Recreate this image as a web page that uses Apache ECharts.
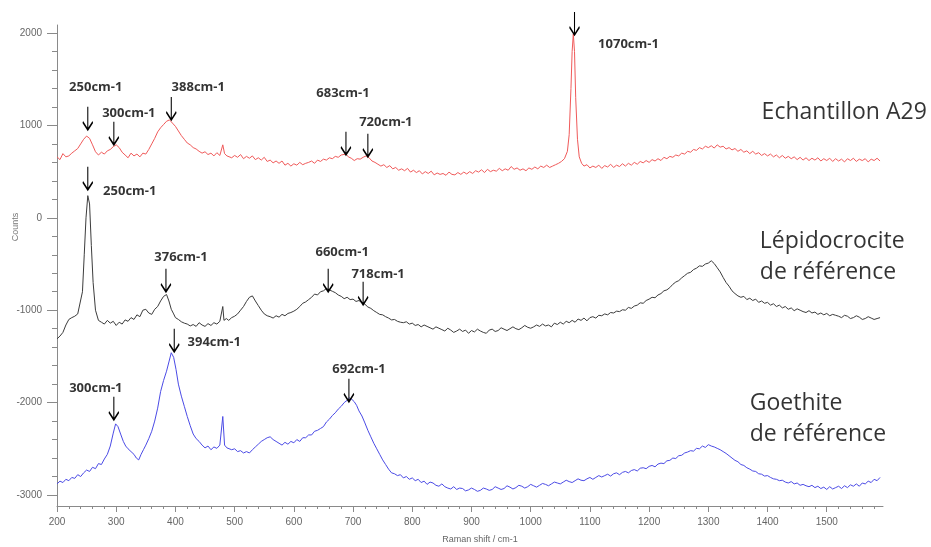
<!DOCTYPE html>
<html>
<head>
<meta charset="utf-8">
<script src="https://cdn.jsdelivr.net/npm/echarts@6/dist/echarts.min.js"></script>
<style>html,body{margin:0;padding:0;background:#fff;}#c{width:931px;height:547px;}</style>
</head>
<body>
<div id="c"></div>
<script>
// ---- data ----
const xTicks = [200,300,400,500,600,700,800,900,1000,1100,1200,1300,1400,1500];
const yTicks = [-3000,-2000,-1000,0,1000,2000];

const echantillonA29 = [[200,660],[205,630],[210,695],[215,660],[220,670],[225,700],[230,725],[235,750],[240,800],[245,850],[250,885],[255,860],[260,790],[265,715],[270,680],[275,710],[280,690],[285,725],[290,740],[295,770],[300,790],[305,760],[310,710],[315,680],[320,650],[325,700],[330,670],[335,690],[340,660],[345,700],[350,690],[355,740],[360,800],[365,860],[370,930],[375,975],[380,1010],[385,1045],[390,1060],[395,1025],[400,990],[405,940],[410,890],[415,850],[420,810],[425,790],[430,760],[435,745],[440,720],[445,700],[450,715],[455,685],[460,700],[465,670],[470,705],[475,675],[477,690],[480,790],[483,695],[487,670],[490,680],[495,650],[500,675],[505,655],[510,685],[515,640],[520,665],[525,645],[530,670],[535,630],[540,650],[545,625],[550,655],[555,610],[560,625],[565,595],[570,615],[575,590],[580,615],[585,570],[590,590],[595,560],[600,585],[605,570],[610,600],[615,575],[620,590],[625,600],[630,615],[635,590],[640,625],[645,610],[650,635],[655,625],[660,650],[665,640],[670,665],[675,655],[680,680],[688,690],[692,660],[697,645],[702,620],[707,640],[712,635],[717,655],[722,670],[727,650],[732,615],[737,600],[742,580],[747,560],[752,575],[757,545],[762,565],[767,530],[772,545],[777,515],[782,530],[787,510],[792,535],[797,495],[802,515],[807,490],[812,510],[817,475],[822,500],[827,480],[832,505],[837,465],[842,485],[847,470],[852,480],[857,460],[862,495],[867,470],[872,465],[877,490],[882,470],[887,495],[892,475],[897,500],[902,480],[907,510],[912,495],[917,520],[922,490],[927,525],[932,500],[937,515],[942,505],[947,535],[952,510],[957,530],[962,515],[967,555],[972,525],[977,540],[982,515],[987,530],[992,510],[997,540],[1002,525],[1007,550],[1012,530],[1017,560],[1022,545],[1027,570],[1032,545],[1037,560],[1042,575],[1047,590],[1052,610],[1057,640],[1062,720],[1065,900],[1068,1400],[1070,1800],[1072,1990],[1074,1800],[1076,1300],[1079,850],[1082,660],[1086,590],[1090,560],[1095,575],[1100,540],[1105,560],[1110,545],[1115,570],[1120,535],[1125,565],[1130,550],[1135,580],[1140,545],[1145,570],[1150,555],[1155,585],[1160,560],[1165,590],[1170,570],[1175,600],[1180,580],[1185,610],[1190,595],[1195,620],[1200,600],[1205,630],[1210,615],[1215,640],[1220,620],[1225,655],[1230,640],[1235,665],[1240,655],[1245,680],[1250,670],[1255,700],[1260,690],[1265,720],[1270,710],[1275,740],[1280,730],[1285,760],[1290,745],[1295,775],[1300,760],[1305,780],[1310,755],[1315,790],[1320,765],[1325,775],[1330,745],[1335,760],[1340,735],[1345,750],[1350,720],[1355,740],[1360,710],[1365,725],[1370,695],[1375,720],[1380,690],[1385,705],[1390,675],[1395,695],[1400,670],[1405,690],[1410,660],[1415,680],[1420,650],[1425,675],[1430,645],[1435,665],[1440,640],[1445,660],[1450,630],[1455,655],[1460,625],[1465,650],[1470,620],[1475,645],[1480,625],[1485,650],[1490,615],[1495,640],[1500,620],[1505,645],[1510,610],[1515,640],[1520,615],[1525,635],[1530,605],[1535,640],[1540,620],[1545,645],[1550,610],[1555,635],[1560,620],[1565,640],[1570,605],[1575,635],[1580,620],[1585,645],[1590,615]];

const lepidocrocite = [[200,-1310],[205,-1280],[210,-1240],[215,-1160],[220,-1100],[225,-1080],[230,-1065],[235,-1040],[238,-1030],[243,-800],[246,-400],[249,0],[252,240],[255,150],[258,-300],[261,-700],[265,-1000],[270,-1110],[275,-1130],[280,-1150],[285,-1110],[290,-1140],[295,-1120],[300,-1165],[305,-1130],[310,-1150],[315,-1105],[320,-1120],[325,-1080],[330,-1100],[335,-1050],[340,-1070],[345,-1000],[350,-990],[355,-1030],[360,-1045],[365,-990],[370,-960],[375,-900],[380,-850],[385,-830],[389,-900],[393,-990],[397,-1040],[400,-1080],[405,-1100],[410,-1125],[415,-1140],[420,-1150],[425,-1170],[430,-1155],[435,-1175],[440,-1135],[445,-1160],[450,-1175],[455,-1145],[460,-1165],[465,-1135],[470,-1150],[475,-1120],[478,-1130],[480,-960],[482,-1110],[486,-1090],[490,-1110],[495,-1080],[500,-1065],[505,-1040],[510,-1000],[515,-960],[520,-905],[525,-860],[530,-845],[535,-900],[540,-950],[545,-1000],[550,-1040],[555,-1060],[560,-1070],[565,-1085],[570,-1060],[575,-1075],[580,-1045],[585,-1060],[590,-1035],[595,-1025],[600,-1010],[605,-990],[610,-960],[615,-925],[620,-910],[625,-885],[630,-860],[635,-825],[640,-835],[645,-800],[650,-790],[655,-765],[660,-780],[665,-795],[670,-810],[675,-835],[680,-850],[685,-875],[690,-860],[695,-885],[700,-880],[705,-905],[710,-895],[715,-920],[720,-935],[725,-965],[730,-980],[735,-1005],[740,-1025],[745,-1045],[750,-1050],[755,-1070],[760,-1085],[765,-1105],[770,-1100],[775,-1120],[780,-1130],[785,-1135],[790,-1125],[795,-1150],[800,-1140],[805,-1165],[810,-1155],[815,-1180],[820,-1160],[825,-1175],[830,-1190],[835,-1205],[840,-1180],[845,-1195],[850,-1210],[855,-1225],[860,-1195],[865,-1215],[870,-1240],[875,-1225],[880,-1205],[885,-1230],[890,-1215],[895,-1250],[900,-1220],[905,-1235],[910,-1205],[915,-1225],[920,-1240],[925,-1250],[930,-1215],[935,-1205],[940,-1230],[945,-1220],[950,-1190],[955,-1205],[960,-1220],[965,-1200],[970,-1180],[975,-1200],[980,-1210],[985,-1190],[990,-1165],[995,-1185],[1000,-1195],[1005,-1180],[1010,-1160],[1015,-1175],[1020,-1150],[1025,-1170],[1030,-1160],[1035,-1180],[1040,-1140],[1045,-1155],[1050,-1130],[1055,-1150],[1060,-1120],[1065,-1135],[1070,-1110],[1075,-1130],[1080,-1095],[1085,-1110],[1090,-1085],[1095,-1115],[1100,-1080],[1105,-1070],[1110,-1085],[1115,-1055],[1120,-1060],[1125,-1040],[1130,-1050],[1135,-1025],[1140,-1030],[1145,-1010],[1150,-1015],[1155,-995],[1160,-1000],[1165,-970],[1170,-980],[1175,-955],[1180,-945],[1185,-920],[1190,-925],[1195,-895],[1200,-880],[1205,-860],[1210,-865],[1215,-835],[1220,-820],[1225,-790],[1230,-780],[1235,-755],[1240,-720],[1245,-695],[1250,-680],[1255,-650],[1260,-625],[1265,-600],[1270,-590],[1275,-560],[1280,-545],[1285,-520],[1290,-525],[1295,-500],[1300,-490],[1305,-465],[1310,-495],[1315,-540],[1320,-585],[1325,-645],[1330,-700],[1335,-740],[1340,-790],[1345,-820],[1350,-845],[1355,-860],[1360,-850],[1365,-885],[1370,-870],[1375,-895],[1380,-880],[1385,-915],[1390,-900],[1395,-925],[1400,-915],[1405,-945],[1410,-930],[1415,-960],[1420,-945],[1425,-975],[1430,-960],[1435,-990],[1440,-975],[1445,-1005],[1450,-985],[1455,-1000],[1460,-1015],[1465,-1025],[1470,-1005],[1475,-1030],[1480,-1020],[1485,-1045],[1490,-1030],[1495,-1050],[1500,-1035],[1505,-1060],[1510,-1045],[1515,-1055],[1520,-1065],[1525,-1080],[1530,-1055],[1535,-1065],[1540,-1090],[1545,-1080],[1550,-1060],[1555,-1075],[1560,-1100],[1565,-1090],[1570,-1070],[1575,-1085],[1580,-1100],[1585,-1090],[1590,-1080]];

const goethite = [[200,-2880],[205,-2850],[210,-2865],[215,-2830],[220,-2845],[225,-2810],[230,-2820],[235,-2780],[240,-2800],[245,-2760],[250,-2730],[255,-2745],[260,-2700],[265,-2715],[270,-2660],[275,-2670],[280,-2610],[285,-2560],[290,-2470],[295,-2330],[299,-2230],[303,-2260],[308,-2350],[312,-2420],[316,-2470],[320,-2500],[325,-2530],[330,-2560],[334,-2600],[338,-2620],[342,-2560],[346,-2510],[350,-2460],[355,-2390],[360,-2310],[365,-2200],[370,-2060],[375,-1880],[380,-1760],[385,-1660],[389,-1560],[393,-1460],[397,-1510],[401,-1640],[405,-1800],[410,-1930],[415,-2040],[420,-2150],[425,-2250],[430,-2340],[435,-2390],[440,-2420],[445,-2460],[450,-2490],[455,-2470],[460,-2510],[465,-2480],[470,-2495],[475,-2460],[478,-2480],[480,-2150],[483,-2460],[487,-2490],[490,-2470],[495,-2510],[500,-2500],[505,-2530],[510,-2520],[515,-2545],[520,-2530],[525,-2545],[530,-2510],[535,-2480],[540,-2450],[545,-2420],[550,-2400],[555,-2380],[560,-2370],[565,-2400],[570,-2420],[575,-2440],[580,-2460],[585,-2430],[590,-2450],[595,-2420],[600,-2435],[605,-2400],[610,-2420],[615,-2380],[620,-2380],[625,-2350],[630,-2350],[635,-2310],[640,-2300],[645,-2280],[650,-2260],[655,-2210],[660,-2180],[665,-2140],[670,-2110],[675,-2070],[680,-2040],[685,-2000],[690,-1975],[694,-1950],[698,-1965],[702,-1990],[706,-2030],[710,-2090],[715,-2145],[720,-2220],[725,-2300],[730,-2370],[735,-2440],[740,-2500],[745,-2560],[750,-2620],[755,-2670],[760,-2720],[765,-2760],[770,-2770],[775,-2790],[780,-2780],[785,-2815],[790,-2800],[795,-2830],[800,-2815],[805,-2845],[810,-2830],[815,-2865],[820,-2850],[825,-2885],[830,-2860],[835,-2870],[840,-2895],[845,-2905],[850,-2880],[855,-2910],[860,-2925],[865,-2935],[870,-2910],[875,-2940],[880,-2925],[885,-2930],[890,-2955],[895,-2945],[900,-2925],[905,-2940],[910,-2960],[915,-2950],[920,-2925],[925,-2935],[930,-2950],[935,-2940],[940,-2910],[945,-2925],[950,-2940],[955,-2930],[960,-2900],[965,-2915],[970,-2935],[975,-2920],[980,-2895],[985,-2905],[990,-2925],[995,-2910],[1000,-2885],[1005,-2900],[1010,-2915],[1015,-2895],[1020,-2875],[1025,-2885],[1030,-2900],[1035,-2880],[1040,-2860],[1045,-2870],[1050,-2880],[1055,-2860],[1060,-2840],[1065,-2855],[1070,-2865],[1075,-2845],[1080,-2825],[1085,-2840],[1090,-2845],[1095,-2825],[1100,-2810],[1105,-2830],[1110,-2810],[1115,-2790],[1120,-2805],[1125,-2790],[1130,-2775],[1135,-2795],[1140,-2770],[1145,-2760],[1150,-2780],[1155,-2755],[1160,-2745],[1165,-2760],[1170,-2735],[1175,-2725],[1180,-2740],[1185,-2710],[1190,-2705],[1195,-2715],[1200,-2690],[1205,-2680],[1210,-2695],[1215,-2665],[1220,-2655],[1225,-2660],[1230,-2630],[1235,-2625],[1240,-2600],[1245,-2605],[1250,-2575],[1255,-2570],[1260,-2545],[1265,-2535],[1270,-2520],[1275,-2525],[1280,-2495],[1285,-2500],[1290,-2470],[1295,-2485],[1300,-2455],[1305,-2470],[1310,-2480],[1315,-2495],[1320,-2510],[1325,-2530],[1330,-2550],[1335,-2575],[1340,-2600],[1345,-2625],[1350,-2640],[1355,-2670],[1360,-2680],[1365,-2705],[1370,-2720],[1375,-2740],[1380,-2745],[1385,-2770],[1390,-2775],[1395,-2795],[1400,-2790],[1405,-2810],[1410,-2825],[1415,-2830],[1420,-2845],[1425,-2840],[1430,-2860],[1435,-2870],[1440,-2855],[1445,-2880],[1450,-2870],[1455,-2895],[1460,-2885],[1465,-2900],[1470,-2910],[1475,-2895],[1480,-2920],[1485,-2905],[1490,-2930],[1495,-2915],[1500,-2940],[1505,-2910],[1510,-2935],[1515,-2920],[1520,-2905],[1525,-2930],[1530,-2900],[1535,-2920],[1540,-2890],[1545,-2905],[1550,-2880],[1555,-2905],[1560,-2870],[1565,-2880],[1570,-2850],[1575,-2865],[1580,-2830],[1585,-2845],[1590,-2810]];

const peakX    = [252, 296, 393, 688, 725, 1074, 252, 384, 658, 717, 296, 398, 693];
const peakY    = [952, 790, 1060, 682, 660, 1980, 303, -800, -800, -940, -2186, -1450, -1990];
const peakText = ['250cm-1','300cm-1','388cm-1','683cm-1','720cm-1','1070cm-1','250cm-1','376cm-1','660cm-1','718cm-1','300cm-1','394cm-1','692cm-1'];

const sampleNames = ['Echantillon A29', 'Lépidocrocite\nde référence', 'Goethite\nde référence'];

// ---- layout (not data) ----
const peakLabelOffset = [[8,-43],[15,-32],[27,-33],[-3,-62],[18,-35],[54,9],[42,1],[15,-34],[14,-39],[15,-30],[-18,-32],[40,-9],[10,-32]];
const sampleLabelAt = [[1390,1136],[1387,-422],[1370,-2175]];

const X_MIN = 200, X_MAX = 1595, Y_MIN = -3119, Y_MAX = 2087;
const minorX = [], minorY = [];
for (let v = 220; v < X_MAX; v += 20) if (v % 100 !== 0) minorX.push(v);
for (let v = -3000; v <= 2000; v += 200) if (v % 1000 !== 0) minorY.push(v);

const axisGray = '#8a8a8a';
const labelGray = '#666';
const plain = v => String(v);

const chart = echarts.init(document.getElementById('c'), null, {renderer: 'canvas'});
chart.setOption({
  animation: false,
  backgroundColor: '#fff',
  grid: {left: 57, right: 48, top: 25, bottom: 41},
  xAxis: [
    {type: 'value', min: X_MIN, max: X_MAX,
     axisLine: {onZero: false, lineStyle: {color: axisGray, width: 1}},
     axisTick: {customValues: xTicks, length: 6, lineStyle: {color: axisGray}},
     axisLabel: {customValues: xTicks, formatter: plain, color: labelGray, fontSize: 10, fontFamily: 'Liberation Sans', margin: 11},
     splitLine: {show: false}},
    {type: 'value', min: X_MIN, max: X_MAX, position: 'bottom',
     axisLine: {onZero: false, show: false},
     axisTick: {customValues: minorX, length: 3, lineStyle: {color: axisGray}},
     axisLabel: {show: false}, splitLine: {show: false}}
  ],
  yAxis: [
    {type: 'value', min: Y_MIN, max: Y_MAX, position: 'left',
     axisLine: {show: true, onZero: false, lineStyle: {color: axisGray, width: 1}},
     axisTick: {show: true, customValues: yTicks, length: 10, lineStyle: {color: axisGray}},
     axisLabel: {customValues: yTicks, formatter: plain, color: labelGray, fontSize: 10, fontFamily: 'Liberation Sans', margin: 15},
     splitLine: {show: false}},
    {type: 'value', min: Y_MIN, max: Y_MAX, position: 'left',
     axisLine: {show: false, onZero: false},
     axisTick: {show: true, customValues: minorY, length: 5, lineStyle: {color: axisGray}},
     axisLabel: {show: false}, splitLine: {show: false}}
  ],
  graphic: [
    {type: 'text', x: 16, y: 227, rotation: Math.PI / 2,
     style: {text: 'Counts', fill: '#777', font: '9px "Liberation Sans"', align: 'center', verticalAlign: 'middle'}},
    {type: 'text', x: 480, y: 540,
     style: {text: 'Raman shift / cm-1', fill: '#666', font: '9px "Liberation Sans"', align: 'center', verticalAlign: 'middle'}}
  ],
  series: [
    {type: 'line', name: sampleNames[0], data: echantillonA29, showSymbol: false, lineStyle: {color: '#f05a5a', width: 1}, z: 2},
    {type: 'line', name: sampleNames[1], data: lepidocrocite, showSymbol: false, lineStyle: {color: '#3c3c3c', width: 1}, z: 2},
    {type: 'line', name: sampleNames[2], data: goethite, showSymbol: false, lineStyle: {color: '#4b4be6', width: 1}, z: 2},
    {type: 'scatter', name: 'arrows', z: 5, silent: true,
     symbol: 'path://M5,0 L5,22 M0.5,14.5 L5,22 L9.5,14.5',
     symbolSize: [10, 23], symbolOffset: [0, '-50%'],
     itemStyle: {color: 'rgba(0,0,0,0)', borderColor: '#000', borderWidth: 1.6, opacity: 1},
     data: peakX.map((x, i) => [x, peakY[i]])},
    {type: 'scatter', name: 'peakLabels', z: 6, silent: true, symbolSize: 0,
     data: peakX.map((x, i) => ({value: [x, peakY[i]], label: {offset: peakLabelOffset[i]}})),
     label: {show: true, position: 'inside', formatter: p => peakText[p.dataIndex],
       color: '#000', fontSize: 13, fontWeight: 'bold', fontFamily: 'Open Sans', align: 'center', verticalAlign: 'middle'}},
    {type: 'scatter', name: 'sampleLabels', z: 6, silent: true, symbolSize: 0,
     data: sampleLabelAt.map(p => p.slice()),
     label: {show: true, position: 'inside', formatter: p => sampleNames[p.dataIndex],
       color: '#000', fontSize: 23, lineHeight: 31, fontFamily: 'Open Sans', align: 'left', verticalAlign: 'middle'}}
  ]
});
</script>
</body>
</html>
